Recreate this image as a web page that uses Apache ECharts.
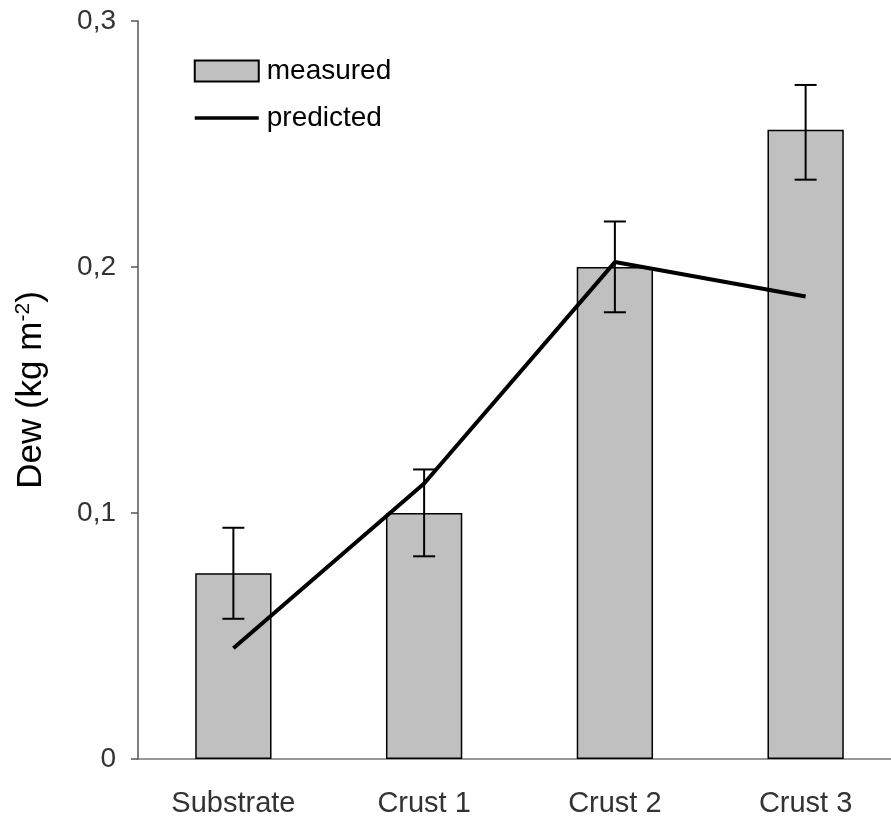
<!DOCTYPE html>
<html>
<head>
<meta charset="utf-8">
<script src="https://cdn.jsdelivr.net/npm/echarts@6/dist/echarts.min.js"></script>
<style>
  html, body { margin: 0; padding: 0; background: #fff; overflow: hidden; }
  #main { width: 901px; height: 817px; }
</style>
</head>
<body>
<div id="main"></div>
<script>
var categories = ['Substrate', 'Crust 1', 'Crust 2', 'Crust 3'];
var measured = [0.0755, 0.1, 0.2, 0.2558];
var errHigh = [0.094, 0.1177, 0.2185, 0.274];
var errLow = [0.057, 0.0824, 0.1816, 0.2355];
var predicted = [0.045, 0.112, 0.202, 0.188];
var yTicks = [0, 0.1, 0.2, 0.3];

var chart = echarts.init(document.getElementById('main'));

var errData = categories.map(function (c, i) {
   return [i, errLow[i], errHigh[i]];
});

chart.setOption({
   animation: false,
   textStyle: { fontFamily: 'Liberation Sans, Arial, sans-serif' },
   grid: { left: 138, top: 21, bottom: 58, right: 0, containLabel: false, outerBoundsMode: 'none' },
   legend: {
      orient: 'vertical',
      left: 193,
      top: 57,
      padding: 0,
      itemWidth: 64,
      itemHeight: 21,
      itemGap: 19,
      textStyle: { fontSize: 28, color: '#000', padding: [0, 0, 0, 3] },
      data: [
         { name: 'measured', icon: 'rect' },
         { name: 'predicted', itemStyle: { opacity: 0 }, lineStyle: { width: 3.5, color: '#000' } }
      ]
   },
   xAxis: {
      type: 'category',
      data: categories,
      axisLine: { lineStyle: { color: '#777', width: 1.5 } },
      axisTick: { length: 8, lineStyle: { color: '#777', width: 1.5 } },
      axisLabel: { fontSize: 29, color: '#333', margin: 30 }
   },
   yAxis: {
      type: 'value',
      min: 0,
      max: 0.3,
      interval: 0.1,
      name: '{a|Dew (kg m}{s|-2}{a|)}',
      nameLocation: 'middle',
      nameGap: 88,
      nameTextStyle: {
         rich: {
            a: { fontSize: 35, color: '#000', fontFamily: 'Liberation Sans' },
            s: { fontSize: 21, color: '#000', verticalAlign: 'top', fontFamily: 'Liberation Sans', padding: [0, 0, 16, 0] }
         }
      },
      splitLine: { show: false },
      axisLine: { show: true, lineStyle: { color: '#555', width: 1.5 } },
      axisTick: { show: true, length: 7, lineStyle: { color: '#555', width: 1.5 } },
      axisLabel: {
         fontSize: 28,
         color: '#333',
         margin: 22,
         formatter: function (v) {
            return yTicks.indexOf(Math.round(v * 10) / 10) >= 0 ? String(Math.round(v * 10) / 10).replace('.', ',') : '';
         }
      }
   },
   series: [
      {
         name: 'measured',
         type: 'bar',
         data: measured,
         barWidth: '40%',
         itemStyle: { color: '#c0c0c0', borderColor: '#000', borderWidth: 1.5 },
         z: 2
      },
      {
         name: 'errors',
         type: 'custom',
         data: errData,
         z: 3,
         renderItem: function (params, api) {
            var x = api.value(0);
            var lo = api.coord([x, api.value(1)]);
            var hi = api.coord([x, api.value(2)]);
            var half = 11;
            var style = { stroke: '#000', lineWidth: 2 };
            return {
               type: 'group',
               children: [
                  { type: 'line', shape: { x1: lo[0], y1: lo[1], x2: hi[0], y2: hi[1] }, style: style },
                  { type: 'line', shape: { x1: lo[0] - half, y1: lo[1], x2: lo[0] + half, y2: lo[1] }, style: style },
                  { type: 'line', shape: { x1: hi[0] - half, y1: hi[1], x2: hi[0] + half, y2: hi[1] }, style: style }
               ]
            };
         }
      },
      {
         name: 'predicted',
         type: 'line',
         data: predicted,
         symbol: 'none',
         lineStyle: { color: '#000', width: 4 },
         itemStyle: { color: '#000' },
         z: 4
      }
   ]
});
</script>
</body>
</html>
